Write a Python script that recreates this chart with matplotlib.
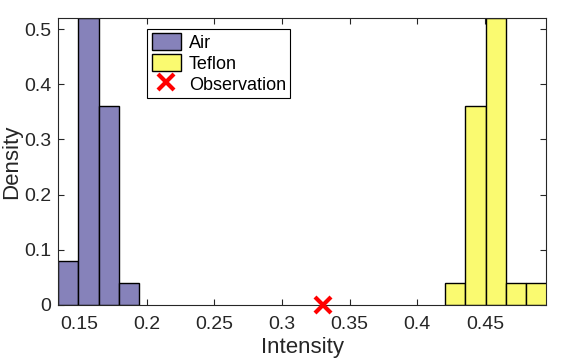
import matplotlib.pyplot as plt
from matplotlib.patches import Patch
from matplotlib.lines import Line2D

plt.rcParams['font.family'] = ['Liberation Sans', 'DejaVu Sans']

# histogram bin edges (left) and probabilities
air_left = [0.1347, 0.1497, 0.1647, 0.1797]
air_prob = [0.08, 0.52, 0.36, 0.04]
teflon_left = [0.4205, 0.4355, 0.4505, 0.4655, 0.4805]
teflon_prob = [0.04, 0.36, 0.52, 0.04, 0.04]
bin_width = 0.015
obs_x = [0.3305]
obs_y = [0.0]

xticks = [0.15, 0.2, 0.25, 0.3, 0.35, 0.4, 0.45]
yticks = [0, 0.1, 0.2, 0.3, 0.4, 0.5]

air_color = '#8682BA'
teflon_color = '#FAFA70'
axcol = '#262626'

fig = plt.figure(figsize=(5.76, 3.6), dpi=100)
ax = fig.add_axes([0.101, 0.153, 0.847, 0.797])

ax.bar(air_left, air_prob, width=bin_width, align='edge', color=air_color,
       edgecolor='black', linewidth=1.0, zorder=2)
ax.bar(teflon_left, teflon_prob, width=bin_width, align='edge', color=teflon_color,
       edgecolor='black', linewidth=1.0, zorder=2)
ax.plot(obs_x, obs_y, 'x', color='red', markersize=11, markeredgewidth=3,
        clip_on=False, zorder=5)

ax.set_xlim(0.1347, 0.4951)
ax.set_ylim(0, 0.52)
ax.set_xticks(xticks)
ax.set_xticklabels(['0.15', '0.2', '0.25', '0.3', '0.35', '0.4', '0.45'])
ax.set_yticks(yticks)
ax.set_yticklabels(['0', '0.1', '0.2', '0.3', '0.4', '0.5'])
ax.tick_params(direction='in', top=True, right=True, labelsize=14,
               colors=axcol, length=4, width=0.8)
ax.tick_params(axis='x', pad=8)
ax.tick_params(axis='y', pad=5)
for s in ax.spines.values():
    s.set_color(axcol)
    s.set_linewidth(0.8)

ax.set_xlabel('Intensity', fontsize=16, color=axcol)
ax.set_ylabel('Density', fontsize=16, color=axcol)
# reference crops these at the figure edge; nudge in just enough to stay whole
ax.xaxis.set_label_coords(0.5, -0.113)
ax.yaxis.set_label_coords(-0.074, 0.5)

handles = [Patch(facecolor=air_color, edgecolor='black', label='Air'),
           Patch(facecolor=teflon_color, edgecolor='black', label='Teflon'),
           Line2D([], [], marker='x', color='red', linestyle='none',
                  markersize=11, markeredgewidth=3, label='Observation')]
leg = ax.legend(handles=handles, loc='upper left', bbox_to_anchor=(0.1825, 0.962),
                borderaxespad=0, fancybox=False, edgecolor='black', framealpha=1,
                fontsize=13, handlelength=1.6, handleheight=1.0,
                labelspacing=0.15, borderpad=0.25, handletextpad=0.45)
leg.get_frame().set_linewidth(0.8)

fig.savefig('out.png', dpi=100)
